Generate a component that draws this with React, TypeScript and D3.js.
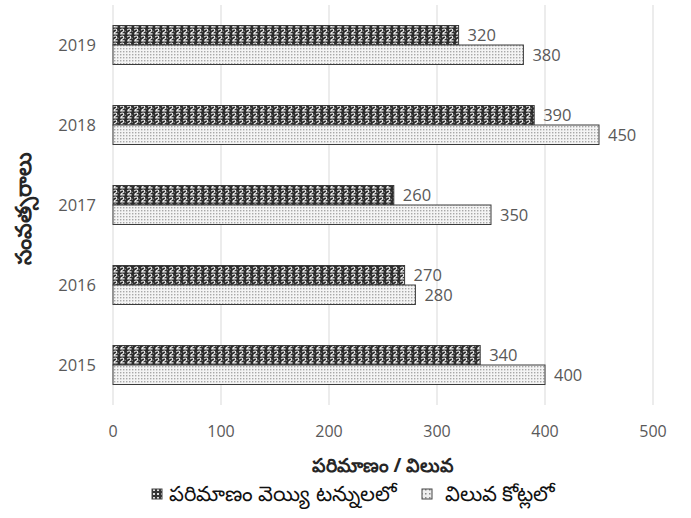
import React from "react";
import * as d3 from "d3";

const years = ["2019", "2018", "2017", "2016", "2015"];
const tonnes = [320, 390, 260, 270, 340];
const crores = [380, 450, 350, 280, 400];
const xTicks = [0, 100, 200, 300, 400, 500];
const seriesNames = ["పరిమాణం వెయ్యి టన్నులలో", "విలువ కోట్లలో"];
const xTitle = "పరిమాణం / విలువ";
const yTitle = "సంవత్సరాలు";

const W = 691;
const H = 518;

export default function App() {
  const x = d3.scaleLinear().domain([0, 500]).range([113, 653]);
  const y = d3.scaleBand<string>().domain(years).range([5, 405]).padding(0);
  const inner = d3.scaleBand<string>().domain(["t", "c"]).range([0, 39]);
  const font = "'Open Sans', 'Noto Sans', sans-serif";
  const grey = "#595959";
  const series = [
    { key: "t", vals: tonnes, fill: "url(#patDark)" },
    { key: "c", vals: crores, fill: "url(#patLight)" },
  ];
  return (
    <svg
      width={W}
      height={H}
      style={{ position: "absolute", left: 0, top: 0, background: "#fff" }}
      fontFamily={font}
    >
      <defs>
        <pattern id="patDark" width="7" height="7" patternUnits="userSpaceOnUse">
          <rect width="7" height="7" fill="#2b2b2b" />
          <path
            d="M1.2,2.2 C2,0.6 4.8,0.6 4.8,2.4 C4.8,3.8 2,4.2 1.8,5.8 L5.6,5.8"
            stroke="#f0f0f0"
            strokeWidth="1.2"
            fill="none"
          />
          <circle cx="6.2" cy="3.5" r="0.7" fill="#888" />
        </pattern>
        <pattern id="patLight" width="3" height="3" patternUnits="userSpaceOnUse">
          <rect width="3" height="3" fill="#f4f4f4" />
          <rect x="0" y="0" width="1.4" height="1.4" fill="#a8a8a8" />
        </pattern>
        <pattern id="legDark" width="4" height="4" patternUnits="userSpaceOnUse">
          <rect width="4" height="4" fill="#333" />
          <rect x="1" y="1" width="2" height="2" fill="#ddd" />
        </pattern>
        <pattern id="legLight" width="4" height="4" patternUnits="userSpaceOnUse">
          <rect width="4" height="4" fill="#eee" />
          <rect x="1" y="1" width="1.5" height="1.5" fill="#888" />
        </pattern>
      </defs>

      {xTicks.map((t) => (
        <g key={t}>
          <line x1={x(t)} x2={x(t)} y1={5} y2={405} stroke="#d9d9d9" strokeWidth={1} />
          <text x={x(t)} y={437} textAnchor="middle" fontSize={16} fill={grey}>
            {t}
          </text>
        </g>
      ))}

      {years.map((yr) => (
        <text
          key={yr}
          x={96}
          y={(y(yr) as number) + y.bandwidth() / 2}
          dy="0.35em"
          textAnchor="end"
          fontSize={16.5}
          fill={grey}
        >
          {yr}
        </text>
      ))}

      {series.map((s) =>
        years.map((yr, i) => {
          const y0 = (y(yr) as number) + y.bandwidth() / 2 - 19.5 + (inner(s.key) as number);
          const h = inner.bandwidth();
          return (
            <g key={s.key + yr}>
              <rect
                x={x(0)}
                y={y0}
                width={x(s.vals[i]) - x(0)}
                height={h}
                fill={s.fill}
                stroke="#3a3a3a"
                strokeWidth={1}
              />
              <text
                x={x(s.vals[i]) + 9}
                y={y0 + h / 2}
                dy="0.35em"
                fontSize={16.5}
                fill={grey}
              >
                {s.vals[i]}
              </text>
            </g>
          );
        })
      )}

      <text x={383} y={472} textAnchor="middle" fontSize={19} fontWeight="bold" fill="#262626">
        {xTitle}
      </text>
      <text
        transform={`translate(31,208) rotate(-90)`}
        textAnchor="middle"
        fontSize={22}
        fontWeight="bold"
        fill="#262626"
      >
        {yTitle}
      </text>

      <g>
        <rect x={152} y={489} width={10} height={10} fill="url(#legDark)" stroke="#444" />
        <text x={169} y={501} fontSize={21} fill="#111">
          {seriesNames[0]}
        </text>
        <rect x={422} y={489} width={10} height={10} fill="url(#legLight)" stroke="#444" />
        <text x={445} y={501} fontSize={21} fill="#111">
          {seriesNames[1]}
        </text>
      </g>
    </svg>
  );
}
